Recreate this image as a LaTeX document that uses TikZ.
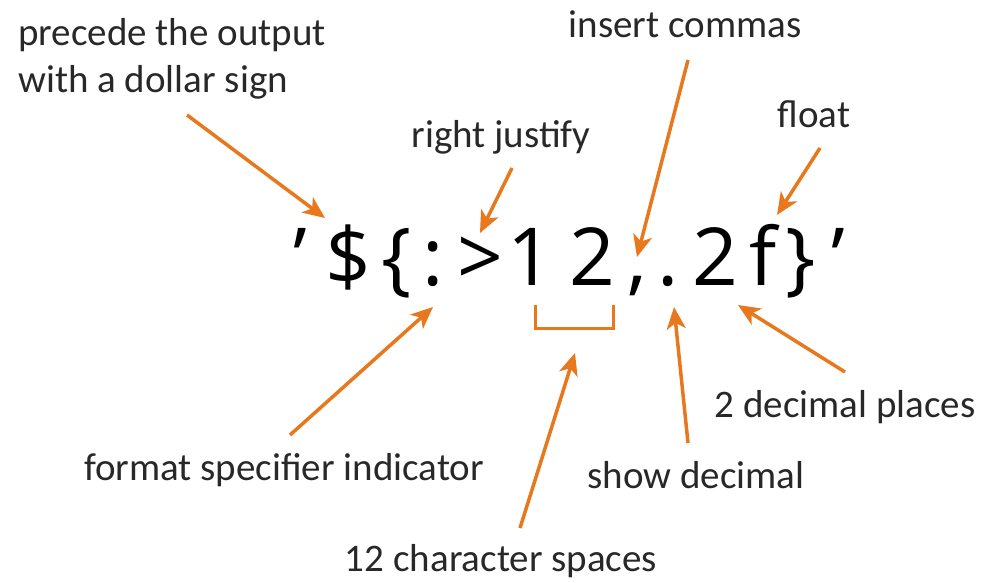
\documentclass[tikz,border=0pt]{standalone}
\usepackage{fontspec}
\setmainfont{Carlito}
\newfontfamily\codefont{Open Sans}
\usetikzlibrary{arrows.meta}
\definecolor{arr}{RGB}{232,120,30}
\definecolor{lbltext}{RGB}{40,40,40}
\begin{document}
\begin{tikzpicture}[x=1pt,y=-1pt,
  lbl/.style={font=\fontsize{39}{47}\selectfont, text=lbltext, inner sep=0pt},
  ch/.style={font=\codefont\fontsize{80}{96}\selectfont, inner sep=0pt, anchor=base},
  pointer/.style={draw=arr, line width=3.5pt, -{Stealth[length=22pt,width=19pt,inset=6pt]}},
  brk/.style={draw=arr, line width=3pt},
]
\useasboundingbox (0,0) rectangle (982,582);
\fill[white] (0,0) rectangle (982,582);

% expression characters
\node[ch] (q1) at (300,285) {’};
\node[ch] (dol) at (348,285) {\$};
\node[ch] (lb) at (397,285) {\{};
\node[ch] (col) at (433,285) {:};
\node[ch] (gt) at (480,285) {>};
\node[ch] (one) at (530,285) {1};
\node[ch] (two) at (592,285) {2};
\node[ch] (com) at (637,285) {,};
\node[ch] (dot) at (668,285) {.};
\node[ch] (twob) at (715,285) {2};
\node[ch] (eff) at (763,285) {f};
\node[ch] (rb) at (801,285) {\}};
\node[ch] (q2) at (838,285) {’};

% labels
\node[lbl, anchor=base west, align=left] (prec) at (18,92) {precede the output\\with a dollar sign};
\node[lbl, anchor=base] (rj) at (501,147) {right justify};
\node[lbl, anchor=base] (ic) at (685,37) {insert commas};
\node[lbl, anchor=base] (fl) at (814,127) {float};
\node[lbl, anchor=base] (fsi) at (284,480) {format specifier indicator};
\node[lbl, anchor=base] (tcs) at (501,571) {12 character spaces};
\node[lbl, anchor=base] (sd) at (696,488) {show decimal};
\node[lbl, anchor=base] (tdp) at (845,417) {2 decimal places};

% arrow ends
\coordinate (tPrec) at (187,115);  \coordinate (hPrec) at (325,218);
\coordinate (tRj) at (512,168);    \coordinate (hRj) at (480,233);
\coordinate (tIc) at (688,60);     \coordinate (hIc) at (637,257);
\coordinate (tFl) at (820,148);    \coordinate (hFl) at (777,215);
\coordinate (tFsi) at (290,435);   \coordinate (hFsi) at (433,307);
\coordinate (tTcs) at (520,528);   \coordinate (hTcs) at (575,353);
\coordinate (tSd) at (688,443);    \coordinate (hSd) at (674,307);
\coordinate (tTdp) at (845,372);   \coordinate (hTdp) at (738,305);

\draw[pointer] (tPrec) -- (hPrec);
\draw[pointer] (tRj) -- (hRj);
\draw[pointer] (tIc) -- (hIc);
\draw[pointer] (tFl) -- (hFl);
\draw[pointer] (tFsi) -- (hFsi);
\draw[pointer] (tTcs) -- (hTcs);
\draw[pointer] (tSd) -- (hSd);
\draw[pointer] (tTdp) -- (hTdp);

% bracket under 12
\coordinate (bl) at (535,305);
\coordinate (br) at (613,305);
\draw[brk] (bl) -- (535,328) -- (613,328) -- (br);
\end{tikzpicture}
\end{document}
